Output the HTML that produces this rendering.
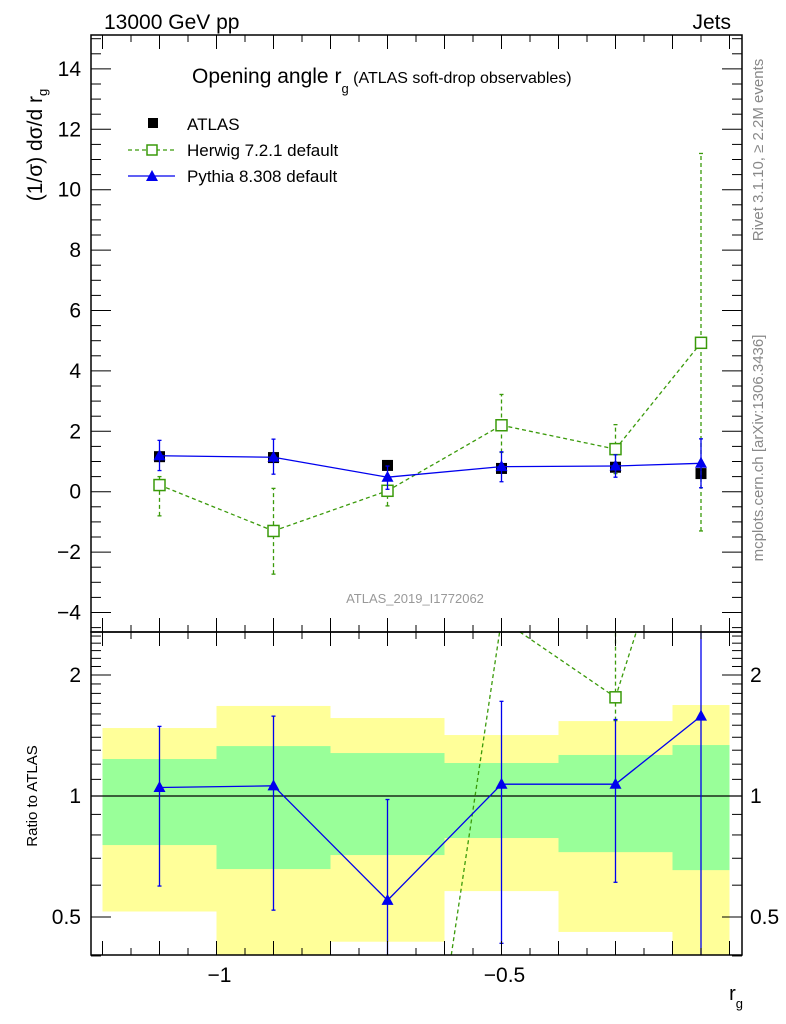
<!DOCTYPE html>
<html><head><meta charset="utf-8"><style>
html,body{margin:0;padding:0;background:#fff;overflow:hidden;width:786px;height:1024px;}
svg{display:block;font-family:"Liberation Sans",sans-serif;}
</style></head><body>
<svg id="chart" width="786" height="1024" viewBox="0 0 786 1024" xmlns="http://www.w3.org/2000/svg">
<g id="bands"></g>
<g id="marks"></g>
<g id="axes"></g>
<text x="104" y="29" font-size="21">13000 GeV pp</text>
<text x="731" y="29" font-size="21" text-anchor="end">Jets</text>
<text x="192" y="83" font-size="21">Opening angle r<tspan font-size="13" dy="10">g</tspan><tspan font-size="16" dy="-10"> (ATLAS soft-drop observables)</tspan></text>
<text transform="translate(42,145) rotate(-90)" font-size="21" text-anchor="middle" x="0" y="0">(1/σ) dσ/d r<tspan font-size="13" dy="5">g</tspan></text>
<text transform="translate(37,796) rotate(-90)" font-size="15" text-anchor="middle">Ratio to ATLAS</text>
<text x="743" y="1000" font-size="20" text-anchor="end">r<tspan font-size="13" dy="8">g</tspan></text>
<text transform="translate(763,150) rotate(-90)" font-size="15" fill="#888" text-anchor="middle">Rivet 3.1.10, ≥ 2.2M events</text>
<text transform="translate(763,448) rotate(-90)" font-size="15" fill="#888" text-anchor="middle">mcplots.cern.ch [arXiv:1306.3436]</text>
<text x="415" y="603" font-size="13" fill="#999" text-anchor="middle">ATLAS_2019_I1772062</text>
<g>
<rect x="148" y="118" width="10" height="10" fill="#000"/>
<text x="187" y="130" font-size="17">ATLAS</text>
<line x1="128" y1="150" x2="175" y2="150" stroke="#3a9a0a" stroke-width="1.3" stroke-dasharray="4,3"/>
<rect x="147" y="145" width="10" height="10" fill="#fff" stroke="#3a9a0a" stroke-width="1.5"/>
<text x="187" y="156" font-size="17">Herwig 7.2.1 default</text>
<line x1="128" y1="176" x2="175" y2="176" stroke="#0000ee" stroke-width="1.3"/>
<polygon points="152,170 158,181 146,181" fill="#0000ee"/>
<text x="187" y="182" font-size="17">Pythia 8.308 default</text>
</g>
</svg>
<script>
// ---- data ----
const binEdges = [-1.2, -1.0, -0.8, -0.6, -0.4, -0.2, -0.1];
const xCenters = [-1.1, -0.9, -0.7, -0.5, -0.3, -0.15];
const atlasVals = [1.16, 1.13, 0.87, 0.77, 0.81, 0.60];
const herwigVals = [0.22, -1.3, 0.03, 2.2, 1.41, 4.93];
const herwigLo = [-0.8, -2.73, -0.47, 1.3, 0.6, -1.3];
const herwigHi = [0.5, 0.11, 0.1, 3.22, 2.22, 11.2];
const pythiaVals = [1.19, 1.14, 0.48, 0.83, 0.85, 0.94];
const pythiaLo = [0.70, 0.58, 0.08, 0.33, 0.48, 0.13];
const pythiaHi = [1.70, 1.74, 0.85, 1.32, 1.22, 1.75];
const yellowLo = [0.516, 0.35, 0.434, 0.58, 0.459, 0.35];
const yellowHi = [1.476, 1.675, 1.563, 1.418, 1.536, 1.684];
const greenLo = [0.755, 0.658, 0.713, 0.786, 0.725, 0.654];
const greenHi = [1.236, 1.331, 1.279, 1.208, 1.265, 1.339];
const pythiaRatio = [1.05, 1.06, 0.55, 1.07, 1.07, 1.58];
const pythiaRatioLo = [0.597, 0.52, 0.30, 0.43, 0.61, 0.30];
const pythiaRatioHi = [1.49, 1.58, 0.98, 1.72, 1.55, 3.0];
const herwigRatio = [0.19, -1.15, 0.035, 2.75, 1.76, 8.2];
const herwigRatioLo = [0.19, -1.15, 0.035, 2.75, 1.54, 8.2];
const herwigRatioHi = [0.19, -1.15, 0.035, 2.75, 3.0, 8.2];
const mainTicks = [-4, -2, 0, 2, 4, 6, 8, 10, 12, 14];
const ratioTicks = [0.5, 1, 2];
const ratioTickLabels = ["0.5", "1", "2"];
const xTicks = [-1, -0.5];
const xTickLabels = ["\u22121", "\u22120.5"];

// ---- scales ----
const X0 = 91, X1 = 742, MT = 35, MB = 632, RB = 955;
const xs = v => 216.5 + (v + 1) * 570;
const ym = v => 491.7 - v * 30.2;
const yr = r => 796 - 121 * Math.log2(Math.max(r, 1e-4));
const NS = "http://www.w3.org/2000/svg";
function mk(parent, tag, attrs) {
  const e = document.createElementNS(NS, tag);
  for (const k in attrs) e.setAttribute(k, attrs[k]);
  parent.appendChild(e);
  return e;
}
const clampY = (y, t, b) => Math.min(b, Math.max(t, y));
function clipSeg(x1, y1, x2, y2, t, b) {
  if ((y1 < t && y2 < t) || (y1 > b && y2 > b)) return null;
  const f = y => x1 + (x2 - x1) * (y - y1) / (y2 - y1);
  if (y1 < t) { x1 = f(t); y1 = t; } else if (y1 > b) { x1 = f(b); y1 = b; }
  if (y2 < t) { x2 = x1 + (x2 - x1) * 0 + (f(t) - x1); y2 = t; }
  else if (y2 > b) { x2 = f(b); y2 = b; }
  return [x1, y1, x2, y2];
}
const bands = document.getElementById('bands');
const marks = document.getElementById('marks');
const axes = document.getElementById('axes');

for (let i = 0; i < xCenters.length; i++) {
  const x = xs(binEdges[i]), w = xs(binEdges[i + 1]) - x;
  const yt = clampY(yr(yellowHi[i]), MB, RB), yb = clampY(yr(yellowLo[i]), MB, RB);
  let r = mk(bands, 'rect', {x: x, y: yt, width: w, height: yb - yt, fill: '#ffff99'});
  
  
  const gt = clampY(yr(greenHi[i]), MB, RB), gb = clampY(yr(greenLo[i]), MB, RB);
  r = mk(bands, 'rect', {x: x, y: gt, width: w, height: gb - gt, fill: '#99ff99'});
  
  
}
let ln = mk(bands, 'line', {x1: X0, x2: X1, y1: yr(1), y2: yr(1), stroke: '#000', 'stroke-width': 1.3});



const gm = mk(marks, 'g', {});


const gr = mk(marks, 'g', {});



function drawSeries(g, vals, lo, hi, ys, color, dashed, marker, name, logSafe, withLine, top, bot) {
  const dash = dashed ? '4,3' : 'none';
  for (let i = 0; i < vals.length; i++) {
    if (logSafe && vals[i] <= 0) continue;
    if (lo[i] === hi[i]) continue;
    const x = xs(xCenters[i]);
    const ylr = ys(logSafe ? Math.max(lo[i], 0.01) : lo[i]), yhr = ys(hi[i]);
    if ((ylr < top && yhr < top) || (ylr > bot && yhr > bot)) continue;
    const yl = clampY(ylr, top, bot), yh = clampY(yhr, top, bot);
    let e = mk(g, 'line', {x1: x, x2: x, y1: yl, y2: yh, stroke: color, 'stroke-width': 1.3, 'stroke-dasharray': dash});
    
    
    for (const [yy, raw] of [[yl, ylr], [yh, yhr]]) {
      if (raw < top || raw > bot) continue;
      const c = mk(g, 'line', {x1: x - 2, x2: x + 2, y1: yy, y2: yy, stroke: color, 'stroke-width': 1.3});
      
      
    }
  }
  if (withLine) {
    for (let i = 0; i < vals.length - 1; i++) {
      if (logSafe && (vals[i] <= 0 || vals[i + 1] <= 0)) continue;
      const s0 = clipSeg(xs(xCenters[i]), ys(vals[i]), xs(xCenters[i + 1]), ys(vals[i + 1]), top, bot);
      if (!s0) continue;
      const s = mk(g, 'line', {x1: s0[0], y1: s0[1], x2: s0[2], y2: s0[3], stroke: color, 'stroke-width': 1.3, 'stroke-dasharray': dash});
      
      
    }
  }
  for (let i = 0; i < vals.length; i++) {
    if (logSafe && vals[i] <= 0) continue;
    const x = xs(xCenters[i]), y = ys(vals[i]);
    if (y < top || y > bot) continue;
    let m;
    if (marker === 'open') m = mk(g, 'rect', {x: x - 5.5, y: y - 5.5, width: 11, height: 11, fill: '#fff', stroke: color, 'stroke-width': 1.5});
    else if (marker === 'tri') m = mk(g, 'polygon', {points: `${x},${y - 6.5} ${x + 6},${y + 4.5} ${x - 6},${y + 4.5}`, fill: color});
    else m = mk(g, 'rect', {x: x - 5.5, y: y - 5.5, width: 11, height: 11, fill: color});
    
    
  }
}
drawSeries(gm, atlasVals, atlasVals, atlasVals, ym, '#000', false, 'sq', 'atlas', false, false, MT, MB);
drawSeries(gm, herwigVals, herwigLo, herwigHi, ym, '#3a9a0a', true, 'open', 'herwig', false, true, MT, MB);
drawSeries(gm, pythiaVals, pythiaLo, pythiaHi, ym, '#0000ee', false, 'tri', 'pythia', false, true, MT, MB);
drawSeries(gr, herwigRatio, herwigRatioLo, herwigRatioHi, yr, '#3a9a0a', true, 'open', 'herwig-ratio', true, true, MB, RB);
drawSeries(gr, pythiaRatio, pythiaRatioLo, pythiaRatioHi, yr, '#0000ee', false, 'tri', 'pythia-ratio', true, true, MB, RB);

for (const [y0, y1, n] of [[MT, MB, 'main-frame'], [MB, RB, 'ratio-frame']]) {
  const f = mk(axes, 'rect', {x: X0, y: y0, width: X1 - X0, height: y1 - y0, fill: 'none', stroke: '#000', 'stroke-width': 1.5});
  
  
}
for (let k = -24; k <= -1; k++) {
  const v = k * 0.05, x = xs(v);
  if (x < X0 || x > X1) continue;
  const major = Math.abs(v * 10 - Math.round(v * 10)) < 1e-6;
  const L = major ? 14 : 7;
  for (const [yb, dir] of [[MT, 1], [MB, -1], [MB, 1], [RB, -1]]) {
    const t = mk(axes, 'line', {x1: x, x2: x, y1: yb, y2: yb + dir * L, stroke: '#000', 'stroke-width': 1});
    
    
  }
}
xTicks.forEach((v, i) => {
  const t = mk(axes, 'text', {x: xs(v) + 3, y: 982, 'font-size': 21, 'text-anchor': 'middle'});
  t.textContent = xTickLabels[i];
  
  
});
for (let v = -4.5; v <= 15; v += 0.5) {
  const y = ym(v);
  if (y < MT || y > MB) continue;
  const major = Math.abs(v / 2 - Math.round(v / 2)) < 1e-6;
  const L = major ? 20 : 10;
  for (const [xb, dir] of [[X0, 1], [X1, -1]]) {
    const t = mk(axes, 'line', {x1: xb, x2: xb + dir * L, y1: y, y2: y, stroke: '#000', 'stroke-width': 1});
    
    
  }
}
mainTicks.forEach(v => {
  const t = mk(axes, 'text', {x: 81, y: ym(v) + 7, 'font-size': 21, 'text-anchor': 'end'});
  t.textContent = String(v).replace('-', '\u2212');
  
  
});
const rMinor = [0.4, 0.5, 0.6, 0.7, 0.8, 0.9, 1, 1.1, 1.2, 1.3, 1.4, 1.5, 1.6, 1.7, 1.8, 1.9, 2, 2.1, 2.2, 2.3, 2.4, 2.5];
rMinor.forEach(v => {
  const y = yr(v);
  const major = ratioTicks.includes(v);
  const L = major ? 20 : 10;
  for (const [xb, dir] of [[X0, 1], [X1, -1]]) {
    const t = mk(axes, 'line', {x1: xb, x2: xb + dir * L, y1: y, y2: y, stroke: '#000', 'stroke-width': 1});
    
    
  }
});
ratioTicks.forEach((v, i) => {
  for (const [x, a] of [[81, 'end'], [750, 'start']]) {
    const t = mk(axes, 'text', {x: x, y: yr(v) + 7, 'font-size': 21, 'text-anchor': a});
    t.textContent = ratioTickLabels[i];
    
    
  }
});
</script>
</body></html>
